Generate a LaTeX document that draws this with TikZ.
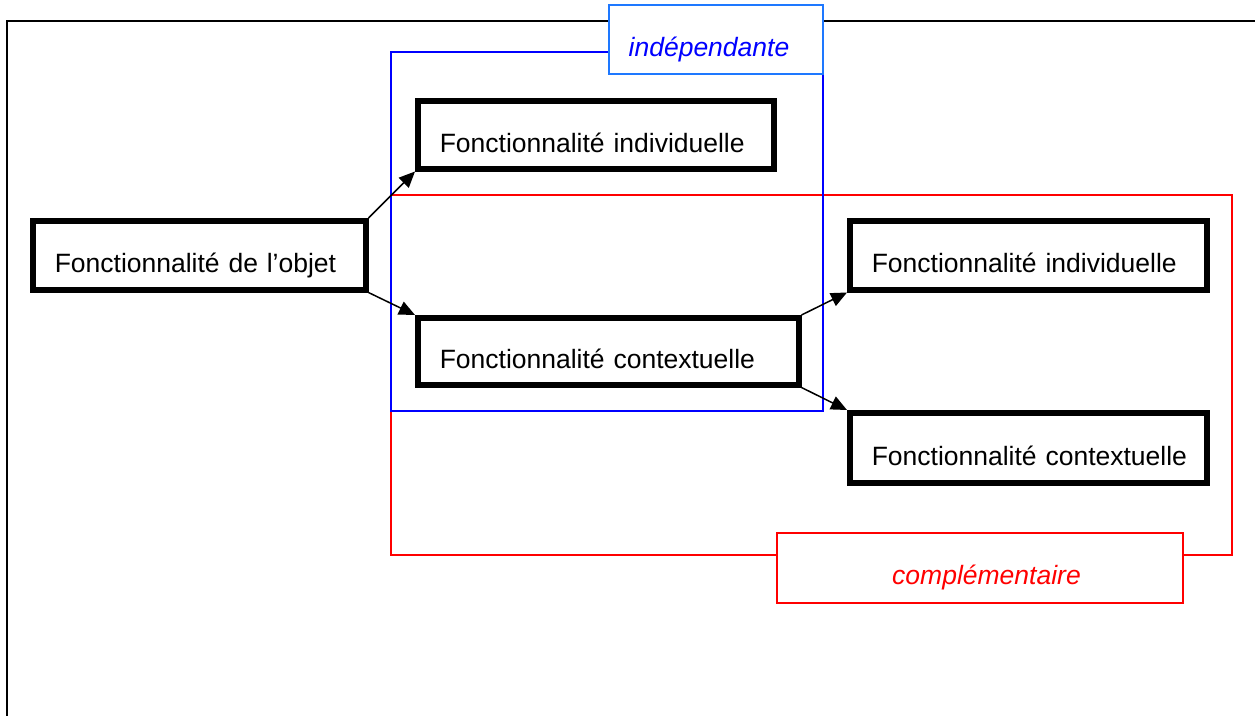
\documentclass[tikz,border=0pt]{standalone}
\usepackage{fontspec}
\setmainfont{Liberation Sans}
\usetikzlibrary{arrows.meta}
\definecolor{groupblue}{RGB}{0,0,255}
\definecolor{tagblue}{RGB}{30,120,255}
\definecolor{groupred}{RGB}{255,0,0}
\begin{document}
\begin{tikzpicture}[x=1pt,y=-1pt,
  font=\fontsize{26.5}{30}\selectfont,
  func/.style={draw, line width=5.5pt, fill=white, anchor=north west,
    inner xsep=22pt, inner ysep=0pt, align=left,
    text height=41.7pt, text depth=6.6pt},
  tag/.style={draw, line width=2pt, fill=white, anchor=north west,
    inner sep=0pt, align=center, font=\fontsize{26.5}{30}\selectfont\itshape,
    text height=39.7pt, text depth=6.6pt},
  link/.style={line width=1.5pt, -{Triangle[length=16pt,width=14pt]}}
]
\useasboundingbox (0,0) rectangle (1255,715);

% page frame (only left and top edges show)
\draw[line width=2pt] (7,720) -- (7,21) -- (1260,21);

% groupings
\draw[groupred, line width=2pt] (391,195) rectangle (1232,555);
\draw[groupblue, line width=2pt] (391,52) rectangle (823,411);

% group labels
\node[tag, draw=tagblue, text=groupblue, minimum width=214pt, minimum height=69pt, text width=214pt]
  (indep) at (608,4) {\hspace*{-14pt}indépendante};
\node[tag, draw=groupred, text=groupred, minimum width=406pt, minimum height=70pt, text width=406pt]
  (compl) at (776,532) {\hspace*{13pt}complémentaire};

% functionality boxes
\node[func, minimum width=333pt, minimum height=69pt, text width=289pt]
  (obj) at (30,218) {\mbox{Fonctionnalité de l’objet}};
\node[func, minimum width=356pt, minimum height=68pt, text width=312pt]
  (ind1) at (415,98) {\mbox{Fonctionnalité individuelle}};
\node[func, minimum width=381pt, minimum height=67pt, text width=337pt]
  (ctx1) at (415,315) {\mbox{Fonctionnalité contextuelle}};
\node[func, minimum width=357pt, minimum height=69pt, text width=313pt]
  (ind2) at (847,218) {\mbox{Fonctionnalité individuelle}};
\node[func, minimum width=357pt, minimum height=70pt, text width=313pt]
  (ctx2) at (847,410) {\mbox{Fonctionnalité contextuelle}};

% connectors
\draw[link] (obj.north east) -- (ind1.south west);
\draw[link] (obj.south east) -- (ctx1.north west);
\draw[link] (ctx1.north east) -- (ind2.south west);
\draw[link] (ctx1.south east) -- (ctx2.north west);
\end{tikzpicture}
\end{document}
